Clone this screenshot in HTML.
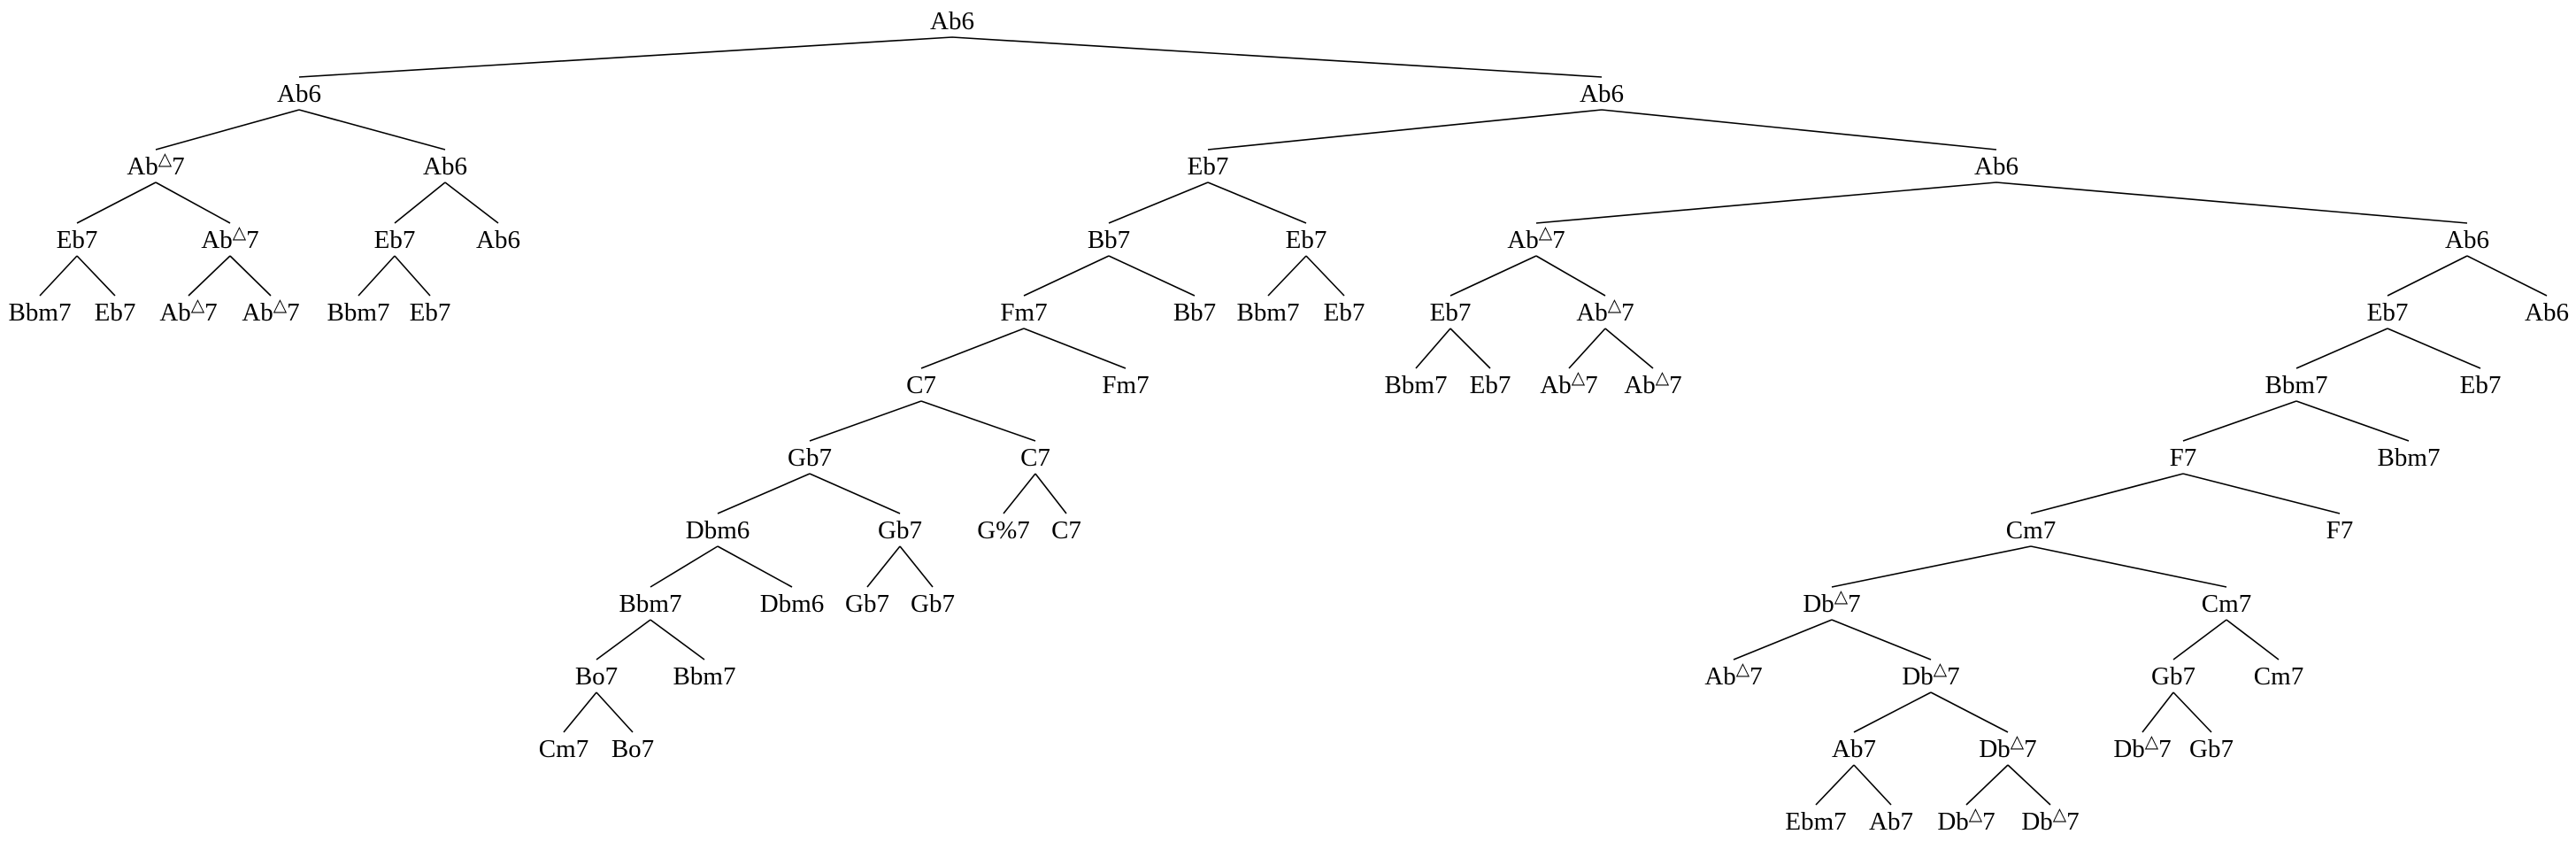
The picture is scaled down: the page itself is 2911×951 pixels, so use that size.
<!DOCTYPE html>
<html><head><meta charset="utf-8"><style>
html,body{margin:0;padding:0;background:#fff;}
svg{display:block;}
text{font-family:"Liberation Serif",serif;font-size:29px;fill:#000;text-anchor:middle;}
tspan.s{font-size:20px;}
</style></head><body>
<svg width="2911" height="951" viewBox="0 0 2911 951" xmlns="http://www.w3.org/2000/svg">
<g stroke="#000" stroke-width="1.6" fill="none">
<path d="M1076 42 L338 87 M1076 42 L1810 87"/>
<path d="M338 124 L176 169 M338 124 L503 169 M1810 124 L1365 169 M1810 124 L2256 169"/>
<path d="M176 206 L87 252 M176 206 L260 252 M503 206 L446 252 M503 206 L563 252 M1365 206 L1253 252 M1365 206 L1476 252 M2256 206 L1736 252 M2256 206 L2788 252"/>
<path d="M87 289 L45 334 M87 289 L130 334 M260 289 L213 334 M260 289 L306 334 M446 289 L405 334 M446 289 L486 334 M1253 289 L1157 334 M1253 289 L1350 334 M1476 289 L1433 334 M1476 289 L1519 334 M1736 289 L1639 334 M1736 289 L1814 334 M2788 289 L2698 334 M2788 289 L2878 334"/>
<path d="M1157 371 L1041 416 M1157 371 L1272 416 M1639 371 L1600 416 M1639 371 L1684 416 M1814 371 L1773 416 M1814 371 L1868 416 M2698 371 L2595 416 M2698 371 L2803 416"/>
<path d="M1041 453 L915 498 M1041 453 L1170 498 M2595 453 L2467 498 M2595 453 L2722 498"/>
<path d="M915 535 L811 580 M915 535 L1017 580 M1170 535 L1134 580 M1170 535 L1205 580 M2467 535 L2295 580 M2467 535 L2644 580"/>
<path d="M811 617 L735 663 M811 617 L895 663 M1017 617 L980 663 M1017 617 L1054 663 M2295 617 L2070 663 M2295 617 L2516 663"/>
<path d="M735 700 L674 745 M735 700 L796 745 M2070 700 L1959 745 M2070 700 L2182 745 M2516 700 L2456 745 M2516 700 L2575 745"/>
<path d="M674 782 L637 827 M674 782 L715 827 M2182 782 L2095 827 M2182 782 L2269 827 M2456 782 L2421 827 M2456 782 L2499 827"/>
<path d="M2095 864 L2052 909 M2095 864 L2137 909 M2269 864 L2222 909 M2269 864 L2317 909"/>
</g>
<g transform="translate(0,-3)">
<text x="1076" y="36">Ab6</text>
<text x="338" y="118">Ab6</text><text x="1810" y="118">Ab6</text>
<text x="176" y="200">Ab<tspan class="s" dy="-11">△</tspan><tspan dy="11">7</tspan></text>
<text x="503" y="200">Ab6</text><text x="1365" y="200">Eb7</text><text x="2256" y="200">Ab6</text>
<text x="87" y="283">Eb7</text>
<text x="260" y="283">Ab<tspan class="s" dy="-11">△</tspan><tspan dy="11">7</tspan></text>
<text x="446" y="283">Eb7</text><text x="563" y="283">Ab6</text>
<text x="1253" y="283">Bb7</text><text x="1476" y="283">Eb7</text>
<text x="1736" y="283">Ab<tspan class="s" dy="-11">△</tspan><tspan dy="11">7</tspan></text>
<text x="2788" y="283">Ab6</text>
<text x="45" y="365">Bbm7</text><text x="130" y="365">Eb7</text>
<text x="213" y="365">Ab<tspan class="s" dy="-11">△</tspan><tspan dy="11">7</tspan></text>
<text x="306" y="365">Ab<tspan class="s" dy="-11">△</tspan><tspan dy="11">7</tspan></text>
<text x="405" y="365">Bbm7</text><text x="486" y="365">Eb7</text>
<text x="1157" y="365">Fm7</text><text x="1350" y="365">Bb7</text>
<text x="1433" y="365">Bbm7</text><text x="1519" y="365">Eb7</text>
<text x="1639" y="365">Eb7</text>
<text x="1814" y="365">Ab<tspan class="s" dy="-11">△</tspan><tspan dy="11">7</tspan></text>
<text x="2698" y="365">Eb7</text><text x="2878" y="365">Ab6</text>
<text x="1041" y="447">C7</text><text x="1272" y="447">Fm7</text>
<text x="1600" y="447">Bbm7</text><text x="1684" y="447">Eb7</text>
<text x="1773" y="447">Ab<tspan class="s" dy="-11">△</tspan><tspan dy="11">7</tspan></text>
<text x="1868" y="447">Ab<tspan class="s" dy="-11">△</tspan><tspan dy="11">7</tspan></text>
<text x="2595" y="447">Bbm7</text><text x="2803" y="447">Eb7</text>
<text x="915" y="529">Gb7</text><text x="1170" y="529">C7</text>
<text x="2467" y="529">F7</text><text x="2722" y="529">Bbm7</text>
<text x="811" y="611">Dbm6</text><text x="1017" y="611">Gb7</text>
<text x="1134" y="611">G%7</text><text x="1205" y="611">C7</text>
<text x="2295" y="611">Cm7</text><text x="2644" y="611">F7</text>
<text x="735" y="694">Bbm7</text><text x="895" y="694">Dbm6</text>
<text x="980" y="694">Gb7</text><text x="1054" y="694">Gb7</text>
<text x="2070" y="694">Db<tspan class="s" dy="-11">△</tspan><tspan dy="11">7</tspan></text>
<text x="2516" y="694">Cm7</text>
<text x="674" y="776">Bo7</text><text x="796" y="776">Bbm7</text>
<text x="1959" y="776">Ab<tspan class="s" dy="-11">△</tspan><tspan dy="11">7</tspan></text>
<text x="2182" y="776">Db<tspan class="s" dy="-11">△</tspan><tspan dy="11">7</tspan></text>
<text x="2456" y="776">Gb7</text><text x="2575" y="776">Cm7</text>
<text x="637" y="858">Cm7</text><text x="715" y="858">Bo7</text>
<text x="2095" y="858">Ab7</text>
<text x="2269" y="858">Db<tspan class="s" dy="-11">△</tspan><tspan dy="11">7</tspan></text>
<text x="2421" y="858">Db<tspan class="s" dy="-11">△</tspan><tspan dy="11">7</tspan></text>
<text x="2499" y="858">Gb7</text>
<text x="2052" y="940">Ebm7</text><text x="2137" y="940">Ab7</text>
<text x="2222" y="940">Db<tspan class="s" dy="-11">△</tspan><tspan dy="11">7</tspan></text>
<text x="2317" y="940">Db<tspan class="s" dy="-11">△</tspan><tspan dy="11">7</tspan></text>
</g>
</svg>
</body></html>
